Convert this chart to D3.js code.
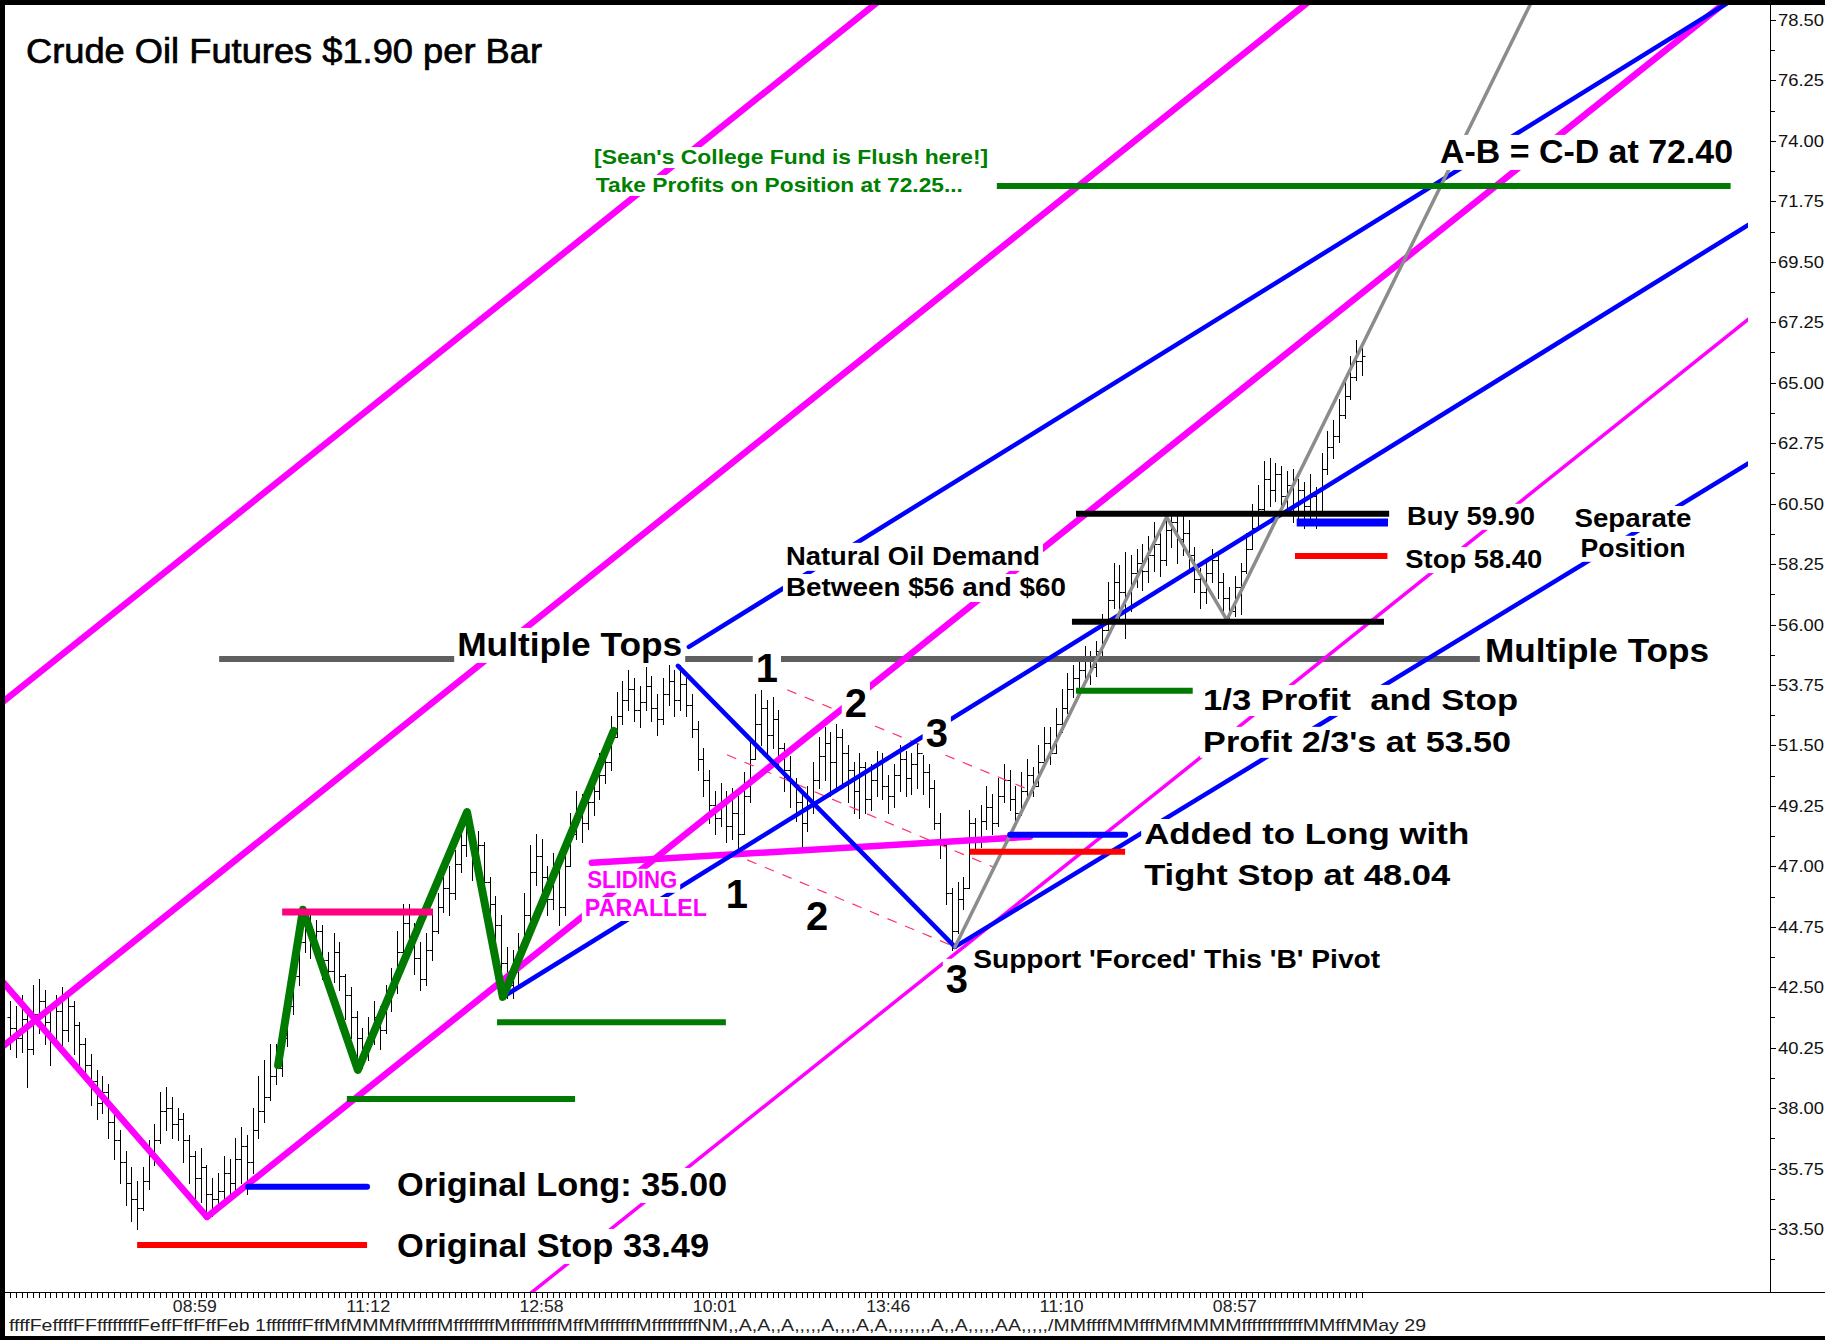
<!DOCTYPE html>
<html>
<head>
<meta charset="utf-8">
<script src="https://cdn.jsdelivr.net/npm/d3@7"></script>
<style>
  body { margin: 0; background: #fff; }
  svg { display: block; }
  text { font-family: "Liberation Sans", Arial, sans-serif; }
</style>
</head>
<body>
<div id="chart"></div>
<script>
// one OHLC bar per index; open = previous close
var firstOpen = 41.4;
var highs = [
  42.0, 41.8, 42.2, 41.6, 42.6, 42.8, 42.4, 41.7, 42.2, 42.5, 42.3, 42.0, 41.2,
  40.6, 40.0, 39.4, 39.2, 38.9, 37.9, 37.2, 36.4, 35.8, 35.3,
  35.8, 36.8, 37.4, 38.6, 38.8,
  38.4, 38.0, 37.8, 37.0, 36.4, 36.5, 35.9, 35.4,
  35.6, 36.2, 36.1, 36.9, 37.3, 37.0, 38.0, 39.2, 39.8, 40.4, 40.4,
  41.0, 42.5, 43.5, 44.8, 45.4,
  45.2, 45.0, 44.8, 43.8, 44.5, 44.2, 43.0, 42.5, 41.6, 41.0,
  41.4, 42.0, 41.8, 42.6, 43.2, 44.6, 45.6, 45.6,
  44.9, 44.2, 44.5, 45.4,
  46.0, 46.8, 47.0, 47.6, 48.5, 49.0,
  48.6, 48.3, 47.9, 46.6, 45.9, 45.2, 44.0,
  43.9, 44.5, 46.0, 47.8, 48.2, 48.0, 47.0, 47.5, 47.2, 47.8, 49.0, 49.8, 49.7, 50.1, 50.5, 51.2, 51.6, 52.6,
  53.5, 53.9, 54.3, 54.0, 53.7, 54.4, 54.1, 53.4, 54.0, 54.5, 54.3, 54.5,
  54.0, 53.4, 52.4, 51.4, 50.6, 49.8, 50.1, 49.8, 49.9, 49.6,
  50.5, 51.8, 53.4, 53.6, 53.2, 53.3, 52.8, 51.6, 51.1, 50.3, 49.7, 50.0,
  50.9, 51.8, 52.2, 52.0, 52.3, 52.1, 51.5, 50.9, 51.2, 50.9, 50.8, 51.3, 51.2, 50.4, 50.8, 51.5, 51.3, 51.2, 51.6, 51.4, 50.8, 50.2, 49.0,
  47.6, 46.2, 46.4, 46.6, 49.1,
  48.8, 49.3, 50.0, 49.7, 50.3, 50.8, 50.6, 50.0, 50.5, 51.0, 50.7, 51.5, 52.2, 52.2, 52.9, 53.6,
  54.2, 54.5, 54.8, 55.2, 55.0, 55.4, 56.4, 57.6, 58.3, 58.2, 58.7, 58.6, 58.8, 59.0, 59.3, 59.8, 59.4, 60.2, 60.2, 60.1,
  60.1, 59.9, 58.9, 58.1, 58.3, 58.8, 58.6, 57.9, 57.4, 57.8,
  58.3, 59.4, 60.5, 61.2, 62.1, 62.2, 62.0, 61.9, 61.7, 61.8, 61.4, 61.3, 61.6, 61.1, 62.4, 63.2, 63.6, 64.4, 65.2, 66.0, 66.6, 66.5
];
var lows = [
  40.2, 39.9, 40.1, 38.8, 40.0, 40.8, 40.4, 39.6, 40.3, 40.2, 40.5, 40.0, 39.5,
  39.0, 38.1, 37.6, 37.8, 36.9, 36.1, 35.2, 34.4, 33.8, 33.5,
  34.2, 35.0, 35.9, 36.7, 37.2,
  36.9, 36.8, 36.0, 35.2, 34.6, 34.5, 34.1, 34.0,
  34.2, 34.6, 34.8, 35.0, 35.2, 34.8, 35.6, 36.9, 37.5, 38.3, 38.9,
  39.2, 40.3, 41.5, 42.6, 43.8,
  43.6, 43.7, 42.8, 42.5, 42.7, 42.4, 41.3, 40.6, 39.7, 39.5,
  39.8, 40.4, 40.2, 40.8, 41.6, 42.3, 43.5, 43.9,
  43.0, 42.4, 42.6, 43.5,
  44.5, 45.3, 45.2, 45.8, 46.8, 47.4,
  46.5, 46.6, 45.8, 44.6, 43.8, 42.8, 42.1,
  42.1, 42.6, 43.8, 45.0, 46.3, 45.9, 45.2, 45.4, 44.8, 45.2, 47.1, 48.0, 47.9, 48.4, 48.9, 49.5, 50.1, 50.6,
  51.8, 52.3, 52.8, 52.4, 52.2, 52.8, 52.4, 51.9, 52.3, 53.0, 52.6, 52.8,
  52.6, 51.8, 50.6, 49.6, 48.6, 48.2, 48.5, 47.9, 48.0, 47.6,
  48.6, 49.4, 51.0, 51.5, 51.2, 51.4, 50.6, 49.8, 49.2, 48.7, 47.6, 48.3,
  49.0, 49.9, 50.2, 49.6, 49.8, 49.9, 49.4, 49.0, 48.8, 49.0, 49.1, 49.6, 49.5, 49.0, 49.2, 49.8, 49.6, 49.7, 49.9, 49.7, 49.2, 48.4, 47.3,
  45.6, 43.9, 44.5, 45.4, 47.6,
  47.6, 47.7, 48.4, 48.2, 48.5, 49.4, 49.1, 48.6, 48.9, 49.5, 49.6, 50.0, 50.7, 50.8, 51.2, 52.0,
  52.7, 53.3, 53.6, 53.9, 53.8, 54.1, 54.8, 55.8, 56.6, 56.1, 55.5, 56.5, 57.4, 57.3, 57.6, 58.0, 57.8, 58.2, 58.9, 58.3,
  58.6, 58.1, 57.2, 56.6, 56.8, 57.6, 57.0, 56.4, 56.2, 56.3,
  56.4, 57.9, 58.9, 59.5, 60.1, 60.4, 60.6, 60.2, 60.1, 59.8, 59.9, 59.6, 59.7, 59.6, 60.2, 61.6, 62.2, 62.8, 63.7, 64.4, 65.1, 65.3
];
var closes = [
  41.0, 40.6, 41.3, 40.2, 41.5, 42.0, 41.2, 40.5, 41.6, 40.9, 41.8, 41.1, 40.4,
  39.6, 39.0, 38.2, 38.6, 37.5, 36.8, 36.0, 35.2, 34.6, 34.3,
  35.3, 36.2, 36.8, 37.9, 38.0,
  37.4, 37.6, 36.8, 36.2, 35.4, 35.8, 34.8, 34.6,
  34.9, 35.6, 35.2, 36.1, 36.6, 36.0, 37.2, 37.9, 38.4, 39.2, 39.5,
  40.6, 41.8, 42.9, 44.2, 44.9,
  44.3, 44.6, 43.5, 43.1, 43.8, 42.9, 42.2, 41.4, 40.6, 40.1,
  40.8, 41.4, 40.9, 42.1, 42.6, 43.8, 44.9, 44.4,
  43.6, 42.8, 43.9, 44.6,
  45.5, 46.2, 46.0, 47.1, 47.8, 48.5,
  47.2, 47.8, 46.4, 45.6, 44.8, 43.4, 42.6,
  43.2, 44.0, 45.2, 46.8, 47.4, 46.6, 45.8, 46.9, 45.5, 47.0, 48.2, 49.0, 48.6, 49.4, 49.8, 50.4, 50.9, 51.8,
  52.6, 53.2, 53.6, 52.8, 53.1, 53.7, 52.9, 52.5, 53.4, 53.9, 53.2, 53.8,
  53.0, 52.1, 51.0, 50.2, 49.3, 48.8, 49.4, 48.5, 49.0, 48.2,
  49.6, 51.0, 52.3, 52.9, 51.9, 52.5, 51.4, 50.6, 50.1, 49.4, 48.6, 49.3,
  50.2, 51.1, 51.6, 50.9, 51.8, 51.2, 50.6, 49.8, 50.7, 49.5, 50.2, 50.9, 50.0, 49.6, 50.4, 51.0, 50.3, 50.8, 51.2, 50.5, 49.9, 48.6, 47.8,
  46.0, 44.6, 45.8, 46.2, 48.6,
  48.0, 48.7, 49.2, 48.6, 49.6, 50.2, 49.5, 49.0, 49.8, 50.4, 50.0, 50.9, 51.6, 51.2, 52.3, 52.9,
  53.6, 54.0, 54.3, 54.7, 54.4, 55.0, 55.8, 56.9, 57.6, 57.2, 56.6, 57.9, 58.3, 58.0, 58.6, 59.0, 58.4, 59.5, 59.8, 59.2,
  59.4, 58.6, 57.7, 57.2, 57.9, 58.4, 57.6, 57.0, 56.5, 57.4,
  58.0, 58.8, 59.6, 60.3, 61.4, 61.0, 61.6, 60.8, 61.2, 60.5, 61.0, 60.4, 60.8, 60.2, 61.8, 62.6, 63.0, 63.8, 64.5, 65.2, 65.8, 66.0
];

var priceTicks = [78.5, 76.25, 74, 71.75, 69.5, 67.25, 65, 62.75, 60.5, 58.25, 56,
  53.75, 51.5, 49.25, 47, 44.75, 42.5, 40.25, 38, 35.75, 33.5];
var timeLabels = ["08:59", "11:12", "12:58", "10:01", "13:46", "11:10", "08:57"];
var timeLabelBars = [32, 62, 92, 122, 152, 182, 212];
var dateRow = "ffffFeffffFFffffffffFeffFffFffFeb 1fffffffFffMfMMMfMffffMffffffffMfffffffffMffMfffffffMfffffffffNM,,A,A,,A,,,,,A,,,,A,A,,,,,,,,A,,A,,,,,AA,,,,,/MMffffMMfffMfMMMMffffffffffffMMffMMay 29";

// drawn lines as [bar, price] points
var magentaThick = [
  [[-2, 52.99], [160, 80.86]],
  [[-2, 40.17], [240, 81.8]],
  [[34.09, 33.95], [310, 81.41]],
  [[-2, 42.88], [34.09, 33.95]],
  [[100.7, 47.13], [176.5, 48.1]]
];
var magentaThin = [[[80, 29.37], [310, 68.93]]];
var blueLines = [
  [[117.5, 55.17], [310, 80.83]],
  [[85.32, 42.14], [310, 72.09]],
  [[163.55, 44.0], [310, 63.19]],
  [[115.6, 54.46], [163.55, 44.0]]
];
var dashedLines = [
  [[134.5, 53.57], [176.5, 49.84]],
  [[124.1, 51.15], [170.1, 46.98]],
  [[127.6, 47.24], [163.55, 44.0]]
];
var greenZigzag = [[46.4, 39.6], [50.7, 45.38], [60.2, 39.42], [79.1, 49.02], [85.3, 42.14], [104.5, 52.04]];
var abcd = [[163.55, 44.0], [200.2, 60.0], [210.6, 56.17], [265, 79.9]];
var greenLevels = [[58.3, 97.8, 38.34], [84.3, 123.9, 41.2], [184.5, 204.7, 53.53], [170.8, 297.8, 72.32]];
var redLevels = [[22.0, 61.8, 32.9], [166.1, 193.0, 47.54], [222.4, 238.4, 58.55]];
var pinkLevels = [[47.1, 73.2, 45.3]];
var blueLevels = [[41.2, 61.8, 35.07], [173.1, 193.0, 48.17]];
var buyLevels = [[222.7, 238.5, 59.8]];
var blackLevels = [[184.5, 238.7, 60.12], [183.8, 237.8, 56.1]];
var greyLevels = [[36.2, 254.4, 54.72]];

var notes = [
  { text: "[Sean's College Fund is Flush here!]", bar: 101.1, price: 73.14, size: 21, width: 394, color: "#008000" },
  { text: "Take Profits on Position at 72.25...", bar: 101.4, price: 72.1, size: 21, width: 367, color: "#008000" },
  { text: "A-B = C-D at 72.40", bar: 247.5, price: 73.18, size: 33, width: 293 },
  { text: "Natural Oil Demand", bar: 134.3, price: 58.22, size: 26, width: 254 },
  { text: "Between $56 and $60", bar: 134.3, price: 57.06, size: 26, width: 280 },
  { text: "Multiple Tops", bar: 77.4, price: 54.83, size: 33, width: 225 },
  { text: "Multiple Tops", bar: 255.3, price: 54.6, size: 33, width: 224 },
  { text: "1", bar: 131.0, price: 53.86, size: 40, anchor: "middle" },
  { text: "2", bar: 146.4, price: 52.56, size: 40, anchor: "middle" },
  { text: "3", bar: 160.4, price: 51.44, size: 40, anchor: "middle" },
  { text: "1", bar: 125.8, price: 45.45, size: 40, anchor: "middle" },
  { text: "2", bar: 139.7, price: 44.63, size: 40, anchor: "middle" },
  { text: "3", bar: 163.9, price: 42.29, size: 40, anchor: "middle" },
  { text: "SLIDING", bar: 99.9, price: 46.2, size: 23, width: 90, color: "#ff00ff" },
  { text: "PARALLEL", bar: 99.5, price: 45.15, size: 23, width: 122, color: "#ff00ff" },
  { text: "Original Long: 35.00", bar: 67.0, price: 34.73, size: 33, width: 330 },
  { text: "Original Stop 33.49", bar: 67.0, price: 32.46, size: 33, width: 312 },
  { text: "Support 'Forced' This 'B' Pivot", bar: 166.7, price: 43.22, size: 25, width: 407 },
  { text: "Added to Long with", bar: 196.3, price: 47.83, size: 30, width: 325 },
  { text: "Tight Stop at 48.04", bar: 196.3, price: 46.31, size: 30, width: 306 },
  { text: "1/3 Profit  and Stop", bar: 206.5, price: 52.82, size: 30, width: 315 },
  { text: "Profit 2/3's at 53.50", bar: 206.5, price: 51.26, size: 30, width: 308 },
  { text: "Buy 59.90", bar: 241.8, price: 59.71, size: 25, width: 128 },
  { text: "Stop 58.40", bar: 241.5, price: 58.1, size: 25, width: 137 },
  { text: "Separate", bar: 280.9, price: 59.63, size: 25, width: 117, anchor: "middle" },
  { text: "Position", bar: 280.9, price: 58.52, size: 25, width: 105, anchor: "middle" }
];

var W = 1825, H = 1340;
var plot = { l: 5, t: 5, r: 1770, b: 1292 };
var drawRight = 1748; // the drawing tools stop short of the price axis

var svg = d3.select("#chart").append("svg").attr("width", W).attr("height", H);
svg.append("rect").attr("width", W).attr("height", H).attr("fill", "#fff");

var x = d3.scaleLinear().domain([0, closes.length - 1]).range([10, 1362]);
var y = d3.scaleLinear().domain([33.5, 78.5]).range([1229, 20]);

svg.append("clipPath").attr("id", "plotclip")
  .append("rect")
  .attr("x", plot.l).attr("y", plot.t)
  .attr("width", drawRight - plot.l).attr("height", plot.b - plot.t);

var g = svg.append("g").attr("clip-path", "url(#plotclip)");

// price bars
var bars = g.append("g").attr("stroke", "#000").attr("stroke-width", 1);
closes.forEach(function (c, i) {
  var o = i === 0 ? firstOpen : closes[i - 1];
  var hi = Math.max(highs[i], o, c);
  var lo = Math.min(lows[i], o, c);
  var cx = Math.round(x(i)) + 0.5;
  bars.append("line").attr("x1", cx).attr("x2", cx).attr("y1", Math.round(y(hi))).attr("y2", Math.round(y(lo)) + 1);
  var oy = Math.round(y(o)) + 0.5;
  var cy = Math.round(y(c)) + 0.5;
  bars.append("line").attr("x1", cx - 3).attr("x2", cx).attr("y1", oy).attr("y2", oy);
  bars.append("line").attr("x1", cx).attr("x2", cx + 3).attr("y1", cy).attr("y2", cy);
});

var line = d3.line().x((d) => x(d[0])).y((d) => y(d[1]));

function drawPath(pts, color, width, opts) {
  opts = opts || {};
  return g.append("path")
    .datum(pts)
    .attr("d", line)
    .attr("fill", "none")
    .attr("stroke", color)
    .attr("stroke-width", width)
    .attr("stroke-linecap", opts.cap || "round")
    .attr("stroke-linejoin", "round")
    .attr("stroke-dasharray", opts.dash || null);
}

function drawLevels(list, color, width, cap) {
  list.forEach((d) => drawPath([[d[0], d[2]], [d[1], d[2]]], color, width, { cap: cap }));
}

dashedLines.forEach((d) => drawPath(d, "#ff3366", 1.2, { dash: "10,9", cap: "butt" }));
drawLevels(greyLevels, "#5f5f5f", 6, "butt");
magentaThick.forEach((d) => drawPath(d, "#ff00ff", 6.5));
magentaThin.forEach((d) => drawPath(d, "#ff00ff", 3.5));
blueLines.forEach((d) => drawPath(d, "#0000ff", 4.5));
drawPath(greenZigzag, "#007a00", 8);
drawPath(abcd, "#8c8c8c", 3.5);
drawLevels(blackLevels, "#000", 6, "butt");
drawLevels(greenLevels, "#007a00", 6, "butt");
drawLevels(redLevels, "#ff0000", 6, "butt");
drawLevels(pinkLevels, "#ff0080", 7, "butt");
drawLevels(blueLevels, "#0000ff", 6, "round");
drawLevels(buyLevels, "#0000ff", 8, "butt");

// annotations, each on a white patch
var notesG = svg.append("g");
notes.forEach(function (n) {
  var t = notesG.append("text")
    .attr("x", x(n.bar))
    .attr("y", y(n.price))
    .attr("font-size", n.size)
    .attr("font-weight", "bold")
    .attr("fill", n.color || "#000")
    .attr("text-anchor", n.anchor || "start")
    .style("white-space", "pre")
    .text(n.text);
  if (n.width) t.attr("textLength", n.width).attr("lengthAdjust", "spacingAndGlyphs");
  var b = t.node().getBBox();
  notesG.insert("rect", () => t.node())
    .attr("x", b.x - 3)
    .attr("y", b.y + 2)
    .attr("width", b.width + 6)
    .attr("height", b.height - 2)
    .attr("fill", "#fff");
});

// title
svg.append("text")
  .attr("x", 26)
  .attr("y", 63)
  .attr("font-size", 35)
  .attr("textLength", 516)
  .attr("lengthAdjust", "spacingAndGlyphs")
  .attr("fill", "#000")
  .attr("stroke", "#000")
  .attr("stroke-width", 0.7)
  .text("Crude Oil Futures $1.90 per Bar");

// price axis
var axisG = svg.append("g").attr("stroke", "#000").attr("stroke-width", 1);
axisG.append("line").attr("x1", 1770.5).attr("x2", 1770.5).attr("y1", plot.t).attr("y2", plot.b);
axisG.append("line").attr("x1", plot.l).attr("x2", W).attr("y1", plot.b + 0.5).attr("y2", plot.b + 0.5);
priceTicks.forEach(function (p) {
  var ty = Math.round(y(p)) + 0.5;
  axisG.append("line").attr("x1", 1770).attr("x2", 1776).attr("y1", ty).attr("y2", ty);
  var my = Math.round(y(p - 1.125)) + 0.5;
  axisG.append("line").attr("x1", 1770).attr("x2", 1775).attr("y1", my).attr("y2", my);
  svg.append("text")
    .attr("x", 1778)
    .attr("y", y(p) + 6)
    .attr("font-size", 16.5)
    .attr("textLength", 46)
    .attr("lengthAdjust", "spacingAndGlyphs")
    .attr("fill", "#111")
    .text(d3.format(".2f")(p));
});

// time axis
closes.forEach(function (c, i) {
  var tx = Math.round(x(i)) + 0.5;
  axisG.append("line").attr("x1", tx).attr("x2", tx).attr("y1", plot.b).attr("y2", plot.b + 6);
});
timeLabels.forEach(function (s, k) {
  svg.append("text")
    .attr("x", x(timeLabelBars[k]))
    .attr("y", 1312)
    .attr("text-anchor", "middle")
    .attr("font-size", 17)
    .attr("textLength", 44)
    .attr("lengthAdjust", "spacingAndGlyphs")
    .attr("fill", "#222")
    .style("font-family", "'Liberation Sans Narrow', 'Liberation Sans', Arial, sans-serif")
    .text(s);
});
svg.append("text")
  .attr("x", 9)
  .attr("y", 1331)
  .attr("font-size", 17)
  .attr("textLength", 1417)
  .attr("lengthAdjust", "spacingAndGlyphs")
  .attr("fill", "#222")
  .style("font-family", "'Liberation Sans Narrow', 'Liberation Sans', Arial, sans-serif")
  .text(dateRow);

// frame
svg.append("rect").attr("x", 0).attr("y", 0).attr("width", W).attr("height", 5).attr("fill", "#000");
svg.append("rect").attr("x", 0).attr("y", 0).attr("width", 5).attr("height", H).attr("fill", "#000");
svg.append("rect").attr("x", 0).attr("y", H - 4).attr("width", W).attr("height", 4).attr("fill", "#000");
</script>
</body>
</html>
